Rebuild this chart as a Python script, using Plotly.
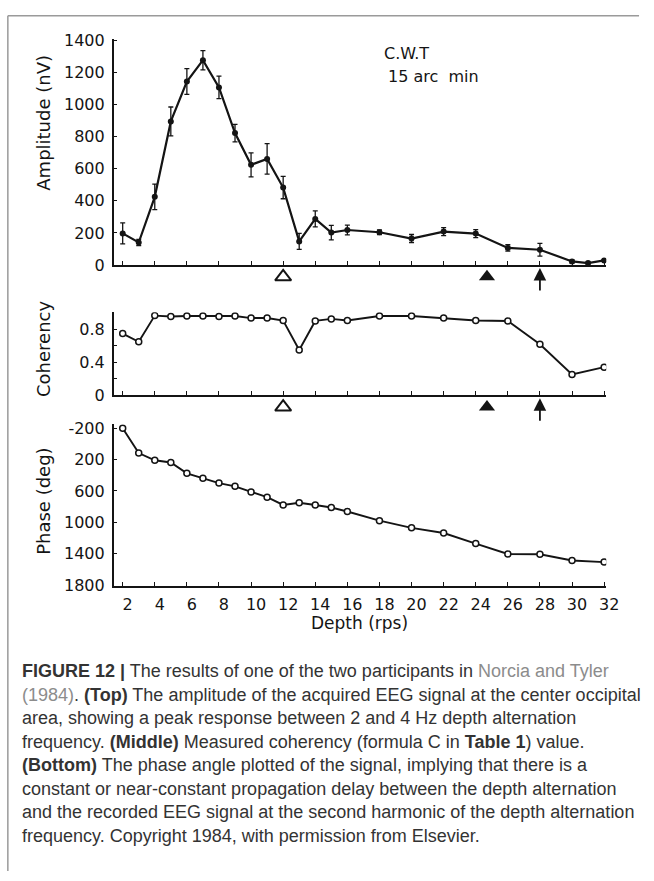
import plotly.graph_objects as go

# ---------------- data ----------------
depth_amp = [2, 3, 4, 5, 6, 7, 8, 9, 10, 11, 12, 13, 14, 15, 16, 18, 20, 22, 24, 26, 28, 30, 31, 32]
amplitude = [197, 140, 425, 896, 1145, 1278, 1108, 823, 625, 662, 483, 147, 287, 202, 218,
             204, 165, 208, 196, 106, 95, 22, 12, 28]
amplitude_err = [65, 20, 80, 90, 80, 60, 70, 55, 75, 95, 70, 50, 50, 45, 30,
                 15, 25, 25, 25, 20, 40, 10, 5, 5]

depth = [2, 3, 4, 5, 6, 7, 8, 9, 10, 11, 12, 13, 14, 15, 16, 18, 20, 22, 24, 26, 28, 30, 32]
coherency = [0.75, 0.65, 0.97, 0.96, 0.965, 0.965, 0.96, 0.965, 0.94, 0.94, 0.91, 0.55, 0.905,
             0.93, 0.91, 0.965, 0.965, 0.94, 0.91, 0.905, 0.62, 0.25, 0.34]
phase = [-200, 117, 209, 237, 375, 437, 500, 541, 612, 679, 779, 750, 779, 812, 862,
         979, 1071, 1137, 1271, 1404, 1408, 1487, 1508]

depth_ticks = list(range(2, 33, 2))
amp_ticks = [0, 200, 400, 600, 800, 1000, 1200, 1400]
coh_ticks = [0, 0.2, 0.4, 0.6, 0.8, 1.0]
coh_ticktext = ["0", "", "0.4", "", "0.8", ""]
phase_ticks = [-200, 200, 600, 1000, 1400, 1800]
phase_ticktext = ["-200", "200", "600", "1000", "1400", "1800"]

open_marker_depth = [12]
filled_marker_depth = [24.7]
arrow_depth = [28]

caption_lines = [
    "<b>FIGURE 12 |</b> The results of one of the two participants in <span style='color:#8c8c8c'>Norcia and Tyler</span>",
    "<span style='color:#8c8c8c'>(1984)</span>. <b>(Top)</b> The amplitude of the acquired EEG signal at the center occipital",
    "area, showing a peak response between 2 and 4 Hz depth alternation",
    "frequency. <b>(Middle)</b> Measured coherency (formula C in <b>Table 1</b>) value.",
    "<b>(Bottom)</b> The phase angle plotted of the signal, implying that there is a",
    "constant or near-constant propagation delay between the depth alternation",
    "and the recorded EEG signal at the second harmonic of the depth alternation",
    "frequency. Copyright 1984, with permission from Elsevier.",
]

# ---------------- layout helpers ----------------
W, H = 654, 881
def fx(p):
    return p / W
def fy(p):
    return 1 - p / H

INK = "#141414"
TICKFONT = dict(family="DejaVu Sans", size=16, color=INK)
TITLEFONT = dict(family="DejaVu Sans", size=18, color=INK)

fig = go.Figure()

# amplitude
fig.add_trace(go.Scatter(
    x=depth_amp, y=amplitude, mode="lines+markers", xaxis="x", yaxis="y",
    line=dict(color=INK, width=2.2),
    marker=dict(symbol="circle", size=6, color=INK),
    error_y=dict(type="data", array=amplitude_err, visible=True, color=INK, thickness=1.3, width=2.5),
    showlegend=False))
# coherency
fig.add_trace(go.Scatter(
    x=depth, y=coherency, mode="lines+markers", xaxis="x2", yaxis="y2",
    line=dict(color=INK, width=1.9),
    marker=dict(symbol="circle", size=6, color="white", line=dict(color=INK, width=1.5)),
    showlegend=False))
# phase
fig.add_trace(go.Scatter(
    x=depth, y=phase, mode="lines+markers", xaxis="x3", yaxis="y3",
    line=dict(color=INK, width=1.9),
    marker=dict(symbol="circle", size=6, color="white", line=dict(color=INK, width=1.5)),
    showlegend=False))

# triangle markers in thin strips under the top two x axes
for xa, ya in [("x", "y4"), ("x2", "y5")]:
    fig.add_trace(go.Scatter(
        x=open_marker_depth, y=[0.62] * len(open_marker_depth), mode="markers", xaxis=xa, yaxis=ya,
        marker=dict(symbol="triangle-up-open", size=14, color=INK, line=dict(color=INK, width=2)),
        cliponaxis=False, showlegend=False, hoverinfo="skip"))
    fig.add_trace(go.Scatter(
        x=filled_marker_depth, y=[0.62] * len(filled_marker_depth), mode="markers", xaxis=xa, yaxis=ya,
        marker=dict(symbol="triangle-up", size=14, color=INK),
        cliponaxis=False, showlegend=False, hoverinfo="skip"))

annotations = []
for xa, ya in [("x", "y4"), ("x2", "y5")]:
    for d in arrow_depth:
        annotations.append(dict(
            x=d, y=0.92, xref=xa, yref=ya, ax=0, ay=24, text="", showarrow=True,
            arrowhead=2, arrowsize=1.4, arrowwidth=1.8, arrowcolor=INK))

# axis titles and labels
annotations += [
    dict(text="Amplitude (nV)", x=fx(45), y=fy(117), textangle=-90, font=TITLEFONT),
    dict(text="Coherency", x=fx(45), y=fy(348), textangle=-90, font=TITLEFONT),
    dict(text="Phase (deg)", x=fx(45), y=fy(504), textangle=-90, font=TITLEFONT),
    dict(text="Depth (rps)", x=fx(367), y=fy(628), font=dict(family="DejaVu Sans", size=17, color=INK)),
    dict(text="C.W.T", x=fx(390), y=fy(46), xanchor="left", font=dict(family="DejaVu Sans", size=16, color=INK)),
    dict(text="15 arc  min", x=fx(394), y=fy(70), xanchor="left", font=dict(family="DejaVu Sans", size=16, color=INK)),
]
for i, line in enumerate(caption_lines):
    annotations.append(dict(
        text=line, x=fx(20), y=fy(677 + 24 * i), xanchor="left",
        font=dict(family="Liberation Sans", size=18, color="#333333")))

for a in annotations:
    a.setdefault("xref", "paper")
    a.setdefault("yref", "paper")
    a.setdefault("showarrow", False)
    a.setdefault("xanchor", "center")
    a.setdefault("yanchor", "middle")

common_x = dict(range=[1.44, 32.13], domain=[fx(116), fx(618.5)], tickvals=depth_ticks,
                ticks="inside", ticklen=4, tickwidth=1.3, tickcolor=INK,
                showline=True, linecolor=INK, linewidth=1.6, showgrid=False, zeroline=False,
                tickfont=TICKFONT)
common_y = dict(ticks="inside", ticklen=4, tickwidth=1.3, tickcolor=INK,
                showline=True, linecolor=INK, linewidth=1.6, showgrid=False, zeroline=False,
                tickfont=TICKFONT, ticklabelstandoff=4)
strip_y = dict(range=[0, 1], visible=False, fixedrange=True)

fig.update_layout(
    width=W, height=H, autosize=False,
    margin=dict(l=0, r=0, t=0, b=0),
    paper_bgcolor="white", plot_bgcolor="white",
    xaxis=dict(common_x, anchor="y", showticklabels=False),
    xaxis2=dict(common_x, anchor="y2", showticklabels=False),
    xaxis3=dict(common_x, anchor="y3", showticklabels=True, ticklabelshift=5, ticklabelstandoff=3),
    yaxis=dict(common_y, anchor="x", domain=[fy(262.3), fy(31.7)], range=[0, 1410], tickvals=amp_ticks),
    yaxis2=dict(common_y, anchor="x2", domain=[fy(395), fy(310.7)], range=[0, 1.01],
                tickvals=coh_ticks, ticktext=coh_ticktext),
    yaxis3=dict(common_y, anchor="x3", domain=[fy(590), fy(425)], range=[1812, -250],
                tickvals=phase_ticks, ticktext=phase_ticktext),
    yaxis4=dict(strip_y, anchor="x", domain=[fy(293), fy(263)]),
    yaxis5=dict(strip_y, anchor="x2", domain=[fy(426), fy(396)]),
    annotations=annotations,
    shapes=[
        dict(type="line", xref="paper", yref="paper", x0=fx(8), x1=fx(652), y0=fy(8), y1=fy(8),
             line=dict(color="#9a9a9a", width=1.5)),
        dict(type="line", xref="paper", yref="paper", x0=fx(8), x1=fx(8), y0=fy(8), y1=0,
             line=dict(color="#9a9a9a", width=1.5)),
    ],
)

fig.write_html("out.html")
